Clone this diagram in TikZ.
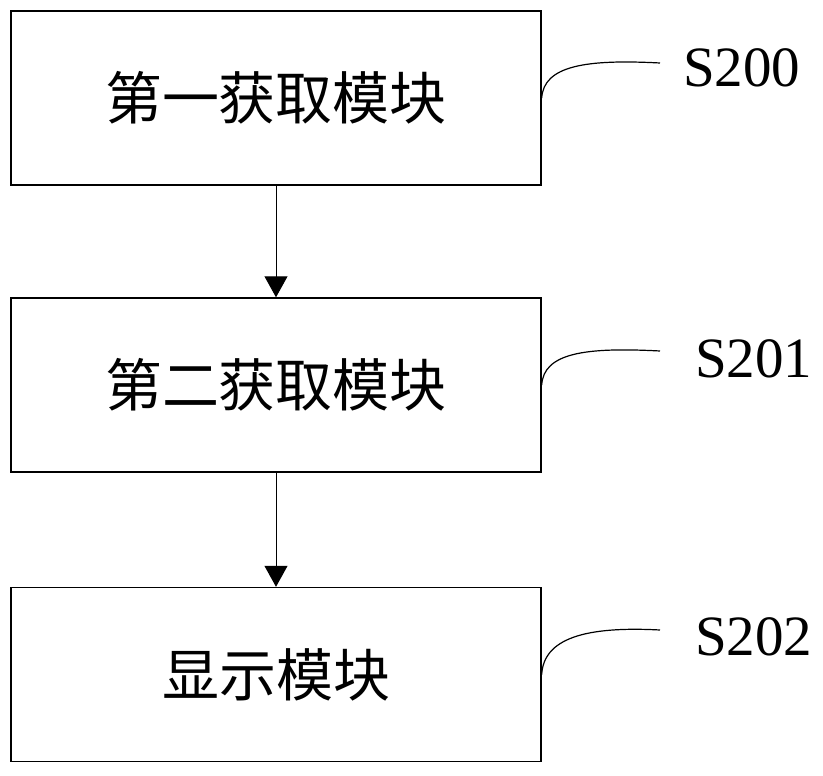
\documentclass[tikz,border=0pt]{standalone}
\usepackage{fontspec}
\setmainfont{Liberation Serif}
\newfontfamily\cjk{Noto Sans CJK SC}
\usetikzlibrary{arrows.meta}

\begin{document}
\begin{tikzpicture}[x=1pt, y=-1pt,
		box/.style={draw, line width=1.4pt, minimum width=530pt, minimum height=174pt, inner sep=0pt, font=\cjk\fontsize{57}{60}\selectfont},
		lbl/.style={anchor=base west, inner sep=0pt, font=\fontsize{57}{60}\selectfont},
		link/.style={line width=1.2pt},
		flow/.style={line width=1pt, -{Triangle[length=21pt, width=23pt]}}]
			\useasboundingbox (0,0) rectangle (823,776);
			
			% 模块框
			\node[box] (box1) at (276,98) {第一获取模块};
			\node[box] (box2) at (276,385) {第二获取模块};
			\node[box] (box3) at (276,674.5) {显示模块};
			
			% 编号
			\node[lbl] (lab1) at (683,87) {S200};
			\node[lbl] (lab2) at (695,377) {S201};
			\node[lbl] (lab3) at (695,655) {S202};
			\coordinate (c1) at (660,63);
			\coordinate (c2) at (660,351);
			\coordinate (c3) at (660,630);
			
			% 引线
			\draw[link] (box1.east) .. controls +(2,-32) and +(-75,-4) .. (c1);
			\draw[link] (box2.east) .. controls +(2,-32) and +(-75,-4) .. (c2);
			\draw[link] (box3.east) .. controls +(2,-36) and +(-75,-4) .. (c3);
			
			% 箭头
			\draw[flow] (box1.south) -- (box2.north);
			\draw[flow] (box2.south) -- (box3.north);
		\end{tikzpicture}
\end{document}
